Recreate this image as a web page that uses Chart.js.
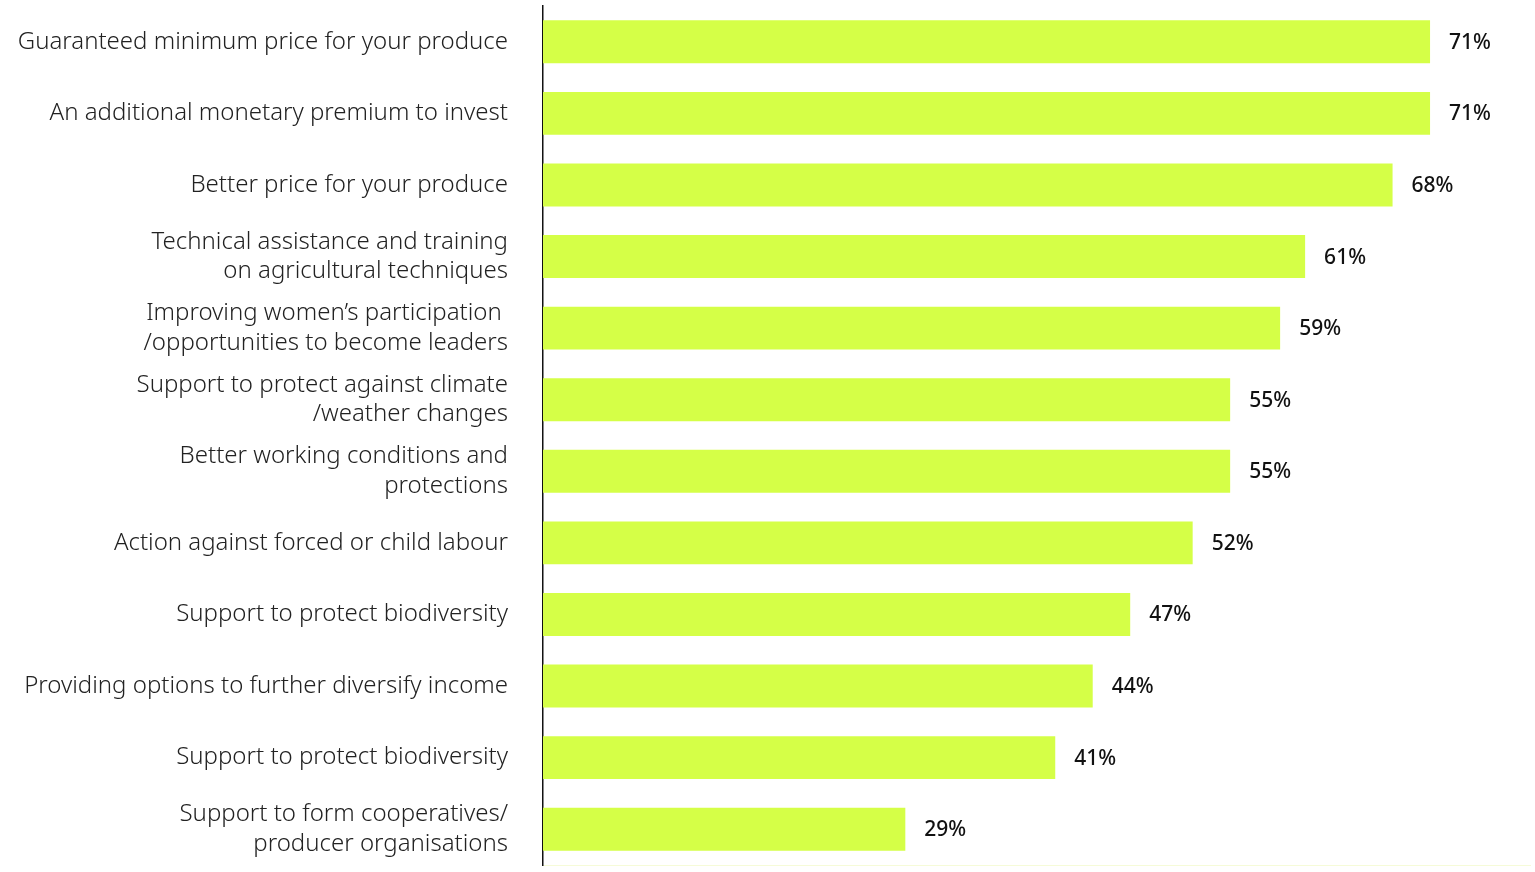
<!DOCTYPE html>
<html>
<head>
<meta charset="utf-8">
<script src="https://cdn.jsdelivr.net/npm/chart.js@4/dist/chart.umd.min.js"></script>
<style>
  html, body { margin: 0; padding: 0; background: #fff; }
  #wrap { width: 1535px; height: 872px; position: relative; }
</style>
</head>
<body>
<div id="wrap"><canvas id="benefitChart"></canvas></div>
<script>
// categories (multi-line labels as arrays)
const categories = [
  'Guaranteed minimum price for your produce',
  'An additional monetary premium to invest',
  'Better price for your produce',
  ['Technical assistance and training', 'on agricultural techniques'],
  ['Improving women\u2019s participation ', '/opportunities to become leaders'],
  ['Support to protect against climate', '/weather changes'],
  ['Better working conditions and', 'protections'],
  'Action against forced or child labour',
  'Support to protect biodiversity',
  'Providing options to further diversify income',
  'Support to protect biodiversity',
  ['Support to form cooperatives/', 'producer organisations']
];
const shares = [71, 71, 68, 61, 59, 55, 55, 52, 47, 44, 41, 29];

const barColor = '#d5ff47';

// value text to the right of each bar
const valueLabels = {
  id: 'valueLabels',
  afterDatasetsDraw(chart) {
    const ctx = chart.ctx;
    const meta = chart.getDatasetMeta(0);
    ctx.save();
    ctx.font = '500 21px "Noto Sans", sans-serif';
    ctx.fillStyle = '#111';
    ctx.textAlign = 'left';
    ctx.textBaseline = 'middle';
    meta.data.forEach((bar, i) => {
      ctx.fillText(shares[i] + '%', bar.x + 19, bar.y + 1);
    });
    ctx.restore();
  }
};

const ctx = document.getElementById('benefitChart').getContext('2d');
const myChart = new Chart(ctx, {
  type: 'bar',
  data: {
    labels: categories,
    datasets: [{
      data: shares,
      backgroundColor: barColor,
      borderWidth: 0,
      barPercentage: 0.6,
      categoryPercentage: 1.0
    }]
  },
  options: {
    indexAxis: 'y',
    responsive: true,
    maintainAspectRatio: false,
    animation: false,
    layout: { padding: { top: 6, bottom: 7, right: 5, left: 0 } },
    plugins: {
      legend: { display: false },
      tooltip: { enabled: false }
    },
    scales: {
      x: {
        min: 0,
        max: 79,
        ticks: { display: false },
        grid: { display: false },
        border: { display: true, color: '#f6fbd8', width: 1 },
        afterFit: (scale) => {
          scale.height = 0;
          scale.paddingLeft = 0;
          scale.paddingRight = 0;
        }
      },
      y: {
        grid: { display: false, drawTicks: false },
        border: { display: true, color: '#111', width: 1.5 },
        ticks: {
          padding: 35,
          color: '#222',
          font: { family: '"Noto Sans", sans-serif', size: 24, weight: 300, lineHeight: 1.22 }
        },
        afterFit: (scale) => {
          scale.width = 543;
          scale.paddingTop = 0;
          scale.paddingBottom = 0;
        }
      }
    }
  },
  plugins: [valueLabels]
});
</script>
</body>
</html>
